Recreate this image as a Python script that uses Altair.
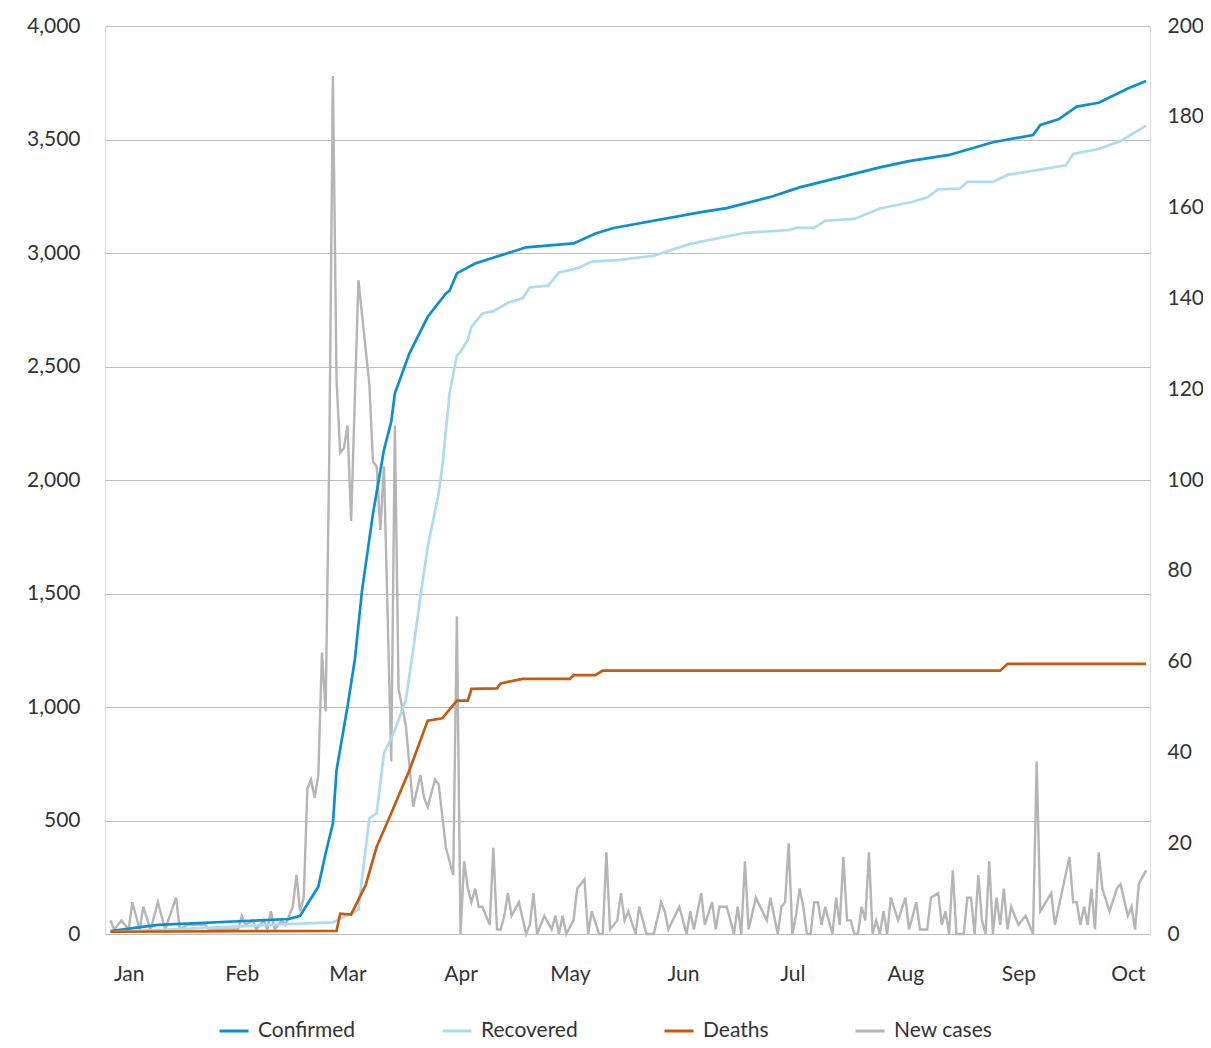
import altair as alt
import pandas as pd

BASE = pd.Timestamp("2020-01-01")

SERIES = ["Confirmed", "Recovered", "Deaths", "New cases"]
COLORS = ["#0b8fd3", "#abdcf1", "#c55a11", "#b5b5b5"]

MONTHS = list(range(1, 11))
LEFT_TICKS = list(range(0, 4001, 500))
RIGHT_TICKS = list(range(0, 201, 20))

# days counted from 1 Jan 2020
confirmed_day = [-5, 8, 44, 47, 52, 54, 56, 57, 60, 62, 64, 67, 70, 72, 73, 77, 82, 87, 88, 90,
                 95, 109, 122, 128, 133, 157, 164, 176, 184, 206, 214, 225, 237, 248, 250, 255,
                 260, 266, 274, 279]
confirmed_val = [13, 40, 66, 80, 208, 355, 488, 722, 1001, 1207, 1515, 1853, 2132, 2257, 2382,
                 2558, 2719, 2822, 2834, 2910, 2954, 3025, 3042, 3086, 3110, 3180, 3198, 3247,
                 3289, 3377, 3405, 3432, 3488, 3520, 3564, 3589, 3645, 3662, 3725, 3758]

recovered_day = [-5, 44, 56, 59, 63, 64, 66, 68, 70, 73, 76, 78, 80, 82, 85, 86, 88, 90, 91, 93,
                 94, 97, 100, 104, 108, 110, 115, 118, 123, 127, 134, 144, 154, 169, 181, 183,
                 188, 191, 199, 206, 215, 219, 222, 228, 230, 237, 241, 257, 259, 266, 272, 279]
recovered_val = [8, 44, 51, 76, 106, 245, 510, 531, 795, 899, 1031, 1251, 1486, 1706, 1940, 2059,
                 2382, 2548, 2565, 2617, 2675, 2734, 2744, 2781, 2800, 2848, 2856, 2914, 2932,
                 2962, 2969, 2988, 3040, 3089, 3101, 3111, 3111, 3142, 3150, 3196, 3226, 3245,
                 3280, 3284, 3313, 3313, 3344, 3386, 3436, 3458, 3493, 3561]

deaths_day = [-5, 57, 58, 61, 63, 65, 68, 72, 77, 82, 86, 90, 93, 94, 101, 102, 108, 121, 122,
              128, 130, 239, 241, 279]
deaths_val = [0.5, 0.7, 4.5, 4.3, 7.5, 10.8, 19.2, 26.6, 36.1, 47, 47.5, 51.4, 51.4, 54, 54.1,
              55.2, 56.2, 56.2, 57, 57, 58, 58, 59.5, 59.5]

new_cases = [(-5, 3), (-4, 1), (-2, 3), (0, 1), (1, 7), (3, 1), (4, 6), (6, 1), (8, 7), (10, 1),
             (13, 8), (14, 1), (16, 2), (21, 2), (22, 1), (30, 1), (31, 4), (32, 2), (34, 3),
             (35, 1), (37, 3), (38, 1), (39, 5), (40, 1), (42, 3), (43, 2), (45, 6), (46, 13),
             (47, 5), (48, 8), (49, 32), (50, 34), (51, 30), (52, 35), (53, 62), (54, 49),
             (55, 105), (56, 189), (57, 122), (58, 106), (59, 107), (60, 112), (61, 91),
             (63, 144), (66, 121), (67, 104), (68, 103), (69, 89), (70, 103), (72, 38),
             (73, 112), (74, 54), (76, 46), (78, 28), (80, 35), (81, 30), (82, 28), (84, 34),
             (85, 33), (87, 19), (89, 13), (90, 70), (91, 0), (92, 16), (93, 10), (94, 7),
             (95, 10), (96, 6), (97, 6), (99, 2), (100, 19), (101, 1), (102, 1), (103, 4),
             (104, 9), (105, 4), (107, 7), (109, 0), (110, 2), (111, 9), (112, 0), (114, 4),
             (116, 1), (117, 4), (118, 0), (119, 4), (120, 0), (122, 3), (123, 10), (125, 12),
             (126, 0), (127, 5), (129, 0), (130, 0), (131, 18), (132, 1), (134, 3), (135, 9),
             (136, 3), (137, 5), (139, 0), (140, 6), (142, 0), (144, 0), (146, 7), (147, 5),
             (148, 1), (151, 6), (153, 0), (154, 5), (155, 1), (157, 9), (158, 2), (160, 7),
             (161, 1), (162, 6), (164, 6), (166, 0), (167, 6), (168, 0), (169, 16), (170, 1),
             (172, 8), (175, 3), (176, 8), (178, 0), (179, 6), (180, 7), (181, 20), (182, 0),
             (183, 4), (184, 10), (185, 6), (186, 0), (187, 0), (188, 7), (189, 7), (190, 2),
             (191, 6), (193, 0), (194, 8), (195, 2), (196, 17), (197, 3), (198, 3), (199, 0),
             (200, 0), (201, 6), (202, 3), (203, 18), (204, 0), (205, 3), (206, 0), (207, 5),
             (208, 0), (209, 8), (211, 3), (213, 8), (214, 1), (216, 7), (217, 1), (219, 1),
             (220, 8), (222, 9), (223, 2), (224, 5), (225, 0), (226, 14), (227, 0), (229, 0),
             (230, 8), (231, 8), (232, 0), (233, 13), (234, 3), (235, 0), (236, 16), (237, 0),
             (238, 8), (239, 2), (240, 10), (241, 1), (242, 6), (244, 2), (246, 4), (248, 0),
             (249, 38), (250, 5), (253, 9), (254, 2), (258, 17), (259, 7), (260, 7), (261, 2),
             (262, 6), (263, 2), (264, 10), (265, 1), (266, 18), (267, 10), (269, 5), (271, 10),
             (272, 11), (274, 4), (275, 6), (276, 1), (277, 11), (279, 14)]


def frame(days, values, name):
    return pd.DataFrame({
        "date": [(BASE + pd.Timedelta(days=d)).strftime("%Y-%m-%dT%H:%M:%S") for d in days],
        "value": values,
        "series": name,
    })


df_conf = frame(confirmed_day, confirmed_val, "Confirmed")
df_rec = frame(recovered_day, recovered_val, "Recovered")
df_death = frame(deaths_day, deaths_val, "Deaths")
df_new = frame([d for d, _ in new_cases], [v for _, v in new_cases], "New cases")

FONT = "Lato"
TEXT = "#333333"
FS = 21

x_enc = alt.X(
    "date:T", title=None,
    scale=alt.Scale(domain=[alt.DateTime(year=2019, month=12, date=25, hours=12),
                            alt.DateTime(year=2020, month=10, date=7, hours=2)]),
    axis=alt.Axis(values=[alt.DateTime(year=2020, month=m, date=1) for m in MONTHS],
                  format="%b", domain=False, ticks=False, grid=False, labelPadding=29,
                  labelFontSize=FS, labelFont=FONT, labelColor=TEXT),
)

legend = alt.Legend(title=None, orient="none", legendX=113, legendY=989, direction="horizontal",
                    symbolType="stroke", symbolSize=841, symbolStrokeWidth=3,
                    labelFontSize=FS, labelFont=FONT, labelColor=TEXT,
                    columnPadding=80, labelOffset=8, padding=0)
color_enc = alt.Color("series:N", scale=alt.Scale(domain=SERIES, range=COLORS), legend=legend)

left_scale = alt.Scale(domain=[0, 4000], nice=False, zero=True)
right_scale = alt.Scale(domain=[0, 200], nice=False, zero=True)

new_layer = alt.Chart(df_new).mark_line(strokeWidth=2.4).encode(
    x=x_enc,
    y=alt.Y("value:Q", scale=right_scale, title=None,
            axis=alt.Axis(orient="right", values=RIGHT_TICKS, format="d", grid=False, domain=False,
                          ticks=False, labelPadding=17, labelFontSize=FS, labelFont=FONT,
                          labelColor=TEXT)),
    color=color_enc,
)

conf_layer = alt.Chart(df_conf).mark_line(strokeWidth=2.7).encode(
    x=x_enc,
    y=alt.Y("value:Q", scale=left_scale, title=None,
            axis=alt.Axis(values=LEFT_TICKS, format=",d", grid=True, gridColor="#bdbdbd", gridWidth=1,
                          domain=False, ticks=False, labelPadding=25, labelFontSize=FS,
                          labelFont=FONT, labelColor=TEXT)),
    color=color_enc,
)

rec_layer = alt.Chart(df_rec).mark_line(strokeWidth=2.7).encode(
    x=x_enc,
    y=alt.Y("value:Q", scale=left_scale, title=None, axis=None),
    color=color_enc,
)

death_layer = alt.Chart(df_death).mark_line(strokeWidth=2.7).encode(
    x=x_enc,
    y=alt.Y("value:Q", scale=right_scale, title=None, axis=None),
    color=color_enc,
)

chart = alt.layer(new_layer, conf_layer, rec_layer, death_layer).resolve_scale(
    y="independent"
).properties(
    width=1045, height=908,
    autosize=alt.AutoSizeParams(type="none"),
    padding={"left": 97, "top": 18, "right": 53, "bottom": 106},
).configure_view(stroke=None).configure(font=FONT)

chart.save("out.html", embed_options={"renderer": "svg", "actions": False})
